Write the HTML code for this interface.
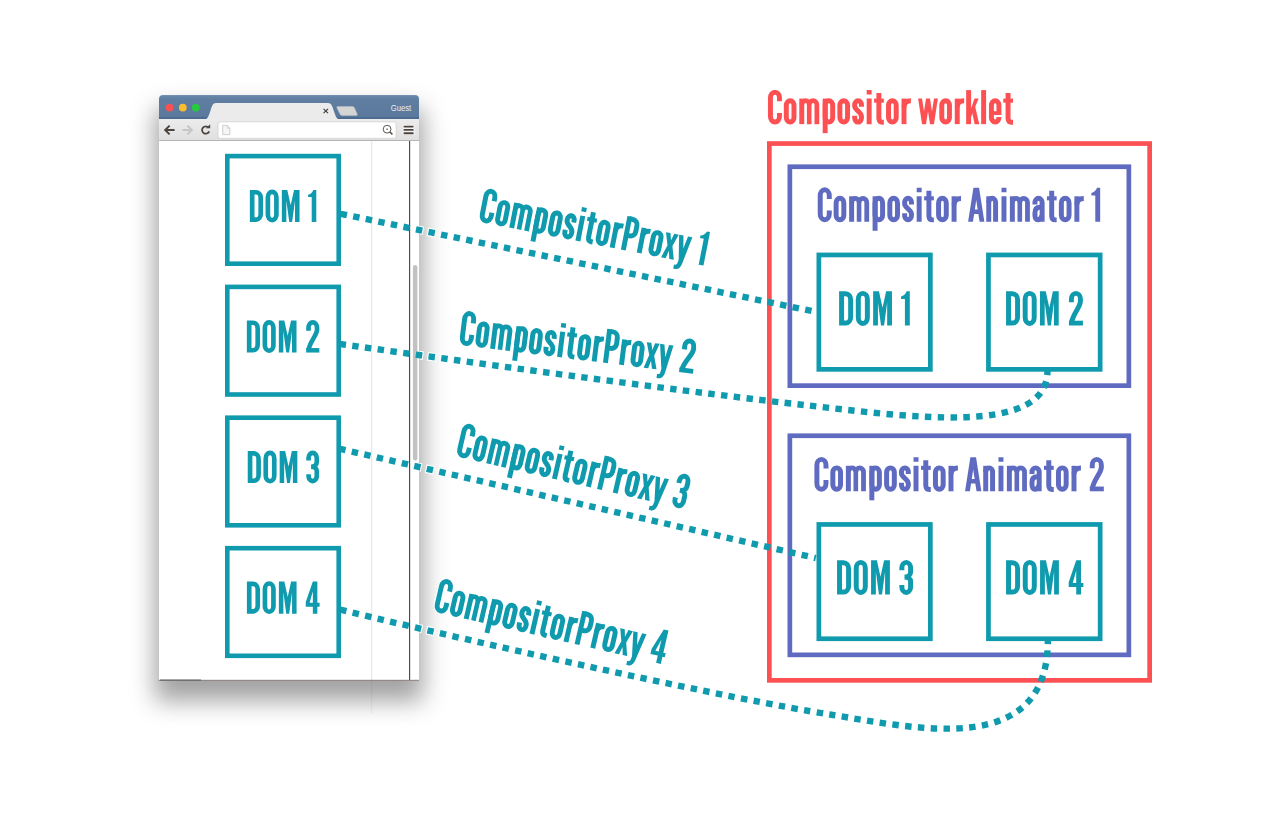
<!DOCTYPE html>
<html><head><meta charset="utf-8"><title>Compositor worklet</title>
<style>
html,body{margin:0;padding:0;background:#fff;}
body{width:1280px;height:815px;overflow:hidden;position:relative;font-family:"Liberation Sans",sans-serif;}
#win{position:absolute;left:158.5px;top:95.2px;width:260.9px;height:585.3px;background:#fff;border-radius:4px 4px 0 0;
 box-shadow:0 17px 24px 3.7px rgba(0,0,0,.37);}
#tb{position:absolute;left:0;top:0;width:100%;height:23.8px;border-radius:4px 4px 0 0;background:linear-gradient(#7b96b6 0,#6585a9 1.2px,#5f7ea2 4px,#5a799d 21.5px,#4c6b90 22.5px,#4c6b90 100%);}
#bar{position:absolute;left:0;top:23.8px;width:100%;height:21.6px;background:linear-gradient(#ececec,#e0e0e0);border-bottom:1px solid #b4b4b4;box-sizing:border-box;}
svg{position:absolute;left:0;top:0;}
text{font-family:"Liberation Sans",sans-serif;font-weight:700;}
</style></head><body>
<div id="win"><div id="tb"></div><div id="bar"></div></div>
<svg width="1280" height="815" viewBox="0 0 1280 815">
<!-- chrome details -->
<g id="chrome">
<path d="M204.5,119.2 C208,119.2 208.5,116 210,112 C212,106 212.5,103 216,103 L328,103 C331.5,103 332.2,106 334.2,112 C335.7,116 336.2,119.2 340,119.2 Z" fill="#ebebeb"/>
<path d="M337.5,106.6 L352.5,106.6 Q354,106.6 354.6,108.2 L357.2,114.2 Q357.6,115.4 356.2,115.4 L342,115.4 Q340.5,115.4 340,114 L337,108 Q336.5,106.6 337.5,106.6 Z" fill="#d4d4d4" stroke="#c0c6cc" stroke-width=".5"/>
<circle cx="169.6" cy="107.6" r="3.9" fill="#fb5152"/>
<circle cx="182.8" cy="107.6" r="3.9" fill="#fdbc2e"/>
<circle cx="195.8" cy="107.6" r="3.9" fill="#27c93f"/>
<text x="390.7" y="111.2" font-size="8.6" fill="#e9eef4" style="font-weight:400" textLength="20.4" lengthAdjust="spacingAndGlyphs">Guest</text>
<path d="M323.6,108.8 L328,113.2 M328,108.8 L323.6,113.2" stroke="#3c3c3c" stroke-width="1.1" fill="none"/>
<rect x="218" y="121.8" width="178.2" height="16.6" rx="2.2" fill="#fff" stroke="#cfcfcf" stroke-width=".8"/>
<!-- back -->
<path d="M174.6,130 L165.6,130 M169.6,125.6 L165.2,130 L169.6,134.4" fill="none" stroke="#4d453f" stroke-width="2"/>
<path d="M182.4,130 L191.4,130 M187.4,125.6 L191.8,130 L187.4,134.4" fill="none" stroke="#c6c6c6" stroke-width="2"/>
<path d="M208.6,127.6 A3.7,3.7 0 1 0 209.2,131.4" fill="none" stroke="#4d453f" stroke-width="1.8"/>
<path d="M205.9,128.3 L210.2,128.3 L210.2,124.2 Z" fill="#4d453f"/>
<!-- page icon -->
<path d="M222.7,125.4 L227.4,125.4 L229.9,127.9 L229.9,134.6 L222.7,134.6 Z" fill="#f6f6f6" stroke="#c9c9c9" stroke-width=".9"/>
<path d="M227.2,125.4 L227.2,128.1 L229.9,128.1" fill="none" stroke="#c9c9c9" stroke-width=".8"/>
<!-- magnifier -->
<circle cx="387.1" cy="129.2" r="3.9" fill="none" stroke="#5b544e" stroke-width="1"/>
<circle cx="387.1" cy="129.2" r=".9" fill="#8a847e"/>
<path d="M389.9,132 L392.4,134.3" stroke="#5b544e" stroke-width="1.6" fill="none"/>
<!-- hamburger -->
<g stroke="#fff" stroke-width="3.6" stroke-opacity=".55" stroke-linecap="round"><path d="M404,126.6H413.2M404,129.9H413.2M404,133.2H413.2"/></g>
<g stroke="#4d453f" stroke-width="1.9" stroke-linecap="round"><path d="M404.4,126.6H412.8M404.4,129.9H412.8M404.4,133.2H412.8"/></g>
<!-- content lines -->
<path d="M371.7,141 V680" stroke="#e3e3e3" stroke-width="1"/>
<path d="M371.7,680 V714" stroke="#000" stroke-opacity=".06" stroke-width="1"/>
<path d="M409.6,141 V680" stroke="#4a413a" stroke-width="1.1"/>
<rect x="412.9" y="265" width="4.5" height="195.6" rx="2.25" fill="#c2c2c2"/>
<path d="M158.6,680.3 H419" stroke="#8d837e" stroke-width="1"/>
<path d="M160,680.2 H201" stroke="#6a6a6a" stroke-width="1.2"/>
</g>
<rect x="227.30" y="156.10" width="111.40" height="107.60" fill="none" stroke="#0f9aad" stroke-width="4.6"/>
<rect x="227.30" y="286.90" width="111.40" height="107.60" fill="none" stroke="#0f9aad" stroke-width="4.6"/>
<rect x="227.30" y="417.70" width="111.40" height="107.60" fill="none" stroke="#0f9aad" stroke-width="4.6"/>
<rect x="227.30" y="548.20" width="111.40" height="107.60" fill="none" stroke="#0f9aad" stroke-width="4.6"/>
<rect x="769.35" y="143.55" width="380.30" height="536.80" fill="none" stroke="#fd5053" stroke-width="4.7"/>
<rect x="789.85" y="166.75" width="339.00" height="218.90" fill="none" stroke="#5f6bc0" stroke-width="4.7"/>
<rect x="789.85" y="435.75" width="339.00" height="219.10" fill="none" stroke="#5f6bc0" stroke-width="4.7"/>
<rect x="818.85" y="254.95" width="111.50" height="114.40" fill="none" stroke="#0f9aad" stroke-width="4.7"/>
<rect x="818.85" y="524.45" width="111.50" height="114.30" fill="none" stroke="#0f9aad" stroke-width="4.7"/>
<rect x="988.45" y="254.95" width="111.70" height="114.40" fill="none" stroke="#0f9aad" stroke-width="4.7"/>
<rect x="988.45" y="524.45" width="111.70" height="114.30" fill="none" stroke="#0f9aad" stroke-width="4.7"/>
<defs><path id="l1" d="M340.62,213.8 L816,311.87"/>
<path id="l2" d="M339.7,343.97 C506.48,367.46 698.03,393.2 805.03,405.1 C906.1,416.33 1047.45,437.56 1047.45,371"/>
<path id="l3" d="M339.26,448.7 L815.8,558.05"/>
<path id="l4" d="M340.27,609.63 C508.16,650.28 731.97,698.91 831.25,714.76 C918.93,728.77 1047.9,758.61 1047.9,640"/><clipPath id="shc"><rect x="419.6" y="90" width="60" height="640"/></clipPath></defs>
<g clip-path="url(#shc)" fill="none" stroke="#fff" stroke-width="8.6" stroke-dasharray="8.65 4.17" stroke-dashoffset="1.1"><use href="#l1"/><use href="#l2"/><use href="#l3"/><use href="#l4"/></g>
<g fill="none" stroke="#0f9aad" stroke-width="6.4" stroke-dasharray="6.45 6.37"><use href="#l1"/><use href="#l2"/><use href="#l3"/><use href="#l4"/></g>
<defs>
<g id="g111"><path d="M7.25,-55.45A11.25,13.50 0 0 1 29.75,-55.45V-19.55A11.25,13.50 0 0 1 7.25,-19.55Z" fill="none" stroke="currentColor" stroke-width="14.5" stroke-linejoin="miter"/></g>
<g id="h111"><path d="M7.25,-55.45A11.25,13.50 0 0 1 29.75,-55.45V-19.55A11.25,13.50 0 0 1 7.25,-19.55Z" fill="none" stroke="#fff" stroke-width="21.5" stroke-linejoin="round"/></g>
<g id="g79"><path d="M7.25,-76.95A13.25,17.00 0 0 1 33.75,-76.95V-23.05A13.25,17.00 0 0 1 7.25,-23.05Z" fill="none" stroke="currentColor" stroke-width="14.5" stroke-linejoin="miter"/></g>
<g id="g67"><path d="M33.75,-67V-76.95A13.25,17 0 0 0 7.25,-76.95V-23.05A13.25,17 0 0 0 33.75,-23.05V-33" fill="none" stroke="currentColor" stroke-width="14.5" stroke-linejoin="miter"/></g>
<g id="h67"><path d="M33.75,-67V-76.95A13.25,17 0 0 0 7.25,-76.95V-23.05A13.25,17 0 0 0 33.75,-23.05V-33" fill="none" stroke="#fff" stroke-width="21.5" stroke-linejoin="round"/></g>
<g id="g68"><path d="M7.25,-92.75H19A14.75,17 0 0 1 33.75,-75.75V-24.25A14.75,17 0 0 1 19,-7.25H7.25Z" fill="none" stroke="currentColor" stroke-width="14.5" stroke-linejoin="miter"/></g>
<g id="g77"><path d="M0,0V-100H17L27.5,-52L38,-100H55V0H41V-67L32,0H23L14,-67V0Z" fill="currentColor" fill-rule="evenodd"/></g>
<g id="g108"><path d="M0,0V-100H14.5V0Z" fill="currentColor" fill-rule="evenodd"/></g>
<g id="g105"><path d="M0,0V-75.0H14.5V0Z M0,-87V-100H14.5V-87Z" fill="currentColor" fill-rule="evenodd"/></g>
<g id="g110"><path d="M0,0V-75.0H14.5V0Z" fill="currentColor" fill-rule="evenodd"/><path d="M7.25,-56.95A10.00,12 0 0 1 27.25,-56.95V0" fill="none" stroke="currentColor" stroke-width="14.5" stroke-linejoin="miter"/></g>
<g id="g109"><path d="M0,0V-75.0H14.5V0Z" fill="currentColor" fill-rule="evenodd"/><path d="M7.75,-56.95A10.62,12 0 0 1 29.00,-56.95V0" fill="none" stroke="currentColor" stroke-width="13.5" stroke-linejoin="miter"/><path d="M29.00,-56.95A11.25,12 0 0 1 51.50,-56.95V0" fill="none" stroke="currentColor" stroke-width="14" stroke-linejoin="miter"/></g>
<g id="g114"><path d="M0,0V-75.0H14.5V0Z" fill="currentColor" fill-rule="evenodd"/><path d="M7.25,-50C7.25,-63 15,-68.45 27.5,-68.45" fill="none" stroke="currentColor" stroke-width="14.5" stroke-linejoin="miter"/></g>
<g id="g112"><path d="M0,26.5V-75.0H14.5V26.5Z" fill="currentColor" fill-rule="evenodd"/><path d="M7.25,-55.45A11.00,13.50 0 0 1 29.25,-55.45V-19.55A11.00,13.50 0 0 1 7.25,-19.55Z" fill="none" stroke="currentColor" stroke-width="14.5" stroke-linejoin="miter"/></g>
<g id="g115"><path d="M27.25,-51V-56.45A10.00,12.5 0 0 0 7.25,-56.45V-53C7.25,-40 27.25,-37 27.25,-22V-18.55A10.00,12.5 0 0 1 7.25,-18.55V-25" fill="none" stroke="currentColor" stroke-width="14.5" stroke-linejoin="miter"/></g>
<g id="g116"><path d="M0,-75.0H28.5V-63H0Z" fill="currentColor" fill-rule="evenodd"/><path d="M14.0,-91.5V-17Q14.7,-5.55 24,-5.55H28.5" fill="none" stroke="currentColor" stroke-width="14.5" stroke-linejoin="miter"/></g>
<g id="g119"><path d="M0,-75H11.5L17.39,-37.1L23.25,-75H34.75L40.61,-37.1L46.5,-75H58L46.35,0H34.85L29,-37.8L23.15,0H11.65Z" fill="currentColor" fill-rule="evenodd"/></g>
<g id="g107"><path d="M0,0V-100H14.5V0Z" fill="currentColor" fill-rule="evenodd"/><path d="M14,-45L24.5,-75H36.5L14,-20Z" fill="currentColor" fill-rule="evenodd"/><path d="M15.5,-44L25,-58L38.5,0H25Z" fill="currentColor" fill-rule="evenodd"/></g>
<g id="g101"><path d="M29.25,-27V-55.45A11.00,13.5 0 0 0 7.25,-55.45V-19.55A11.00,13.5 0 0 0 29.25,-19.55V-21" fill="none" stroke="currentColor" stroke-width="14.5" stroke-linejoin="miter"/><path d="M7.25,-38H29.25V-27H7.25Z" fill="currentColor" fill-rule="evenodd"/></g>
<g id="g65"><path d="M0,0L15.5,-100H32L47.5,0H33.5L29.9,-23H17.6L14,0ZM19.6,-36H27.9L23.75,-64Z" fill="currentColor" fill-rule="evenodd"/></g>
<g id="g97"><path d="M7.25,-51V-56.95A10.50,12 0 0 1 28.25,-56.95V0" fill="none" stroke="currentColor" stroke-width="14.5" stroke-linejoin="miter"/><path d="M28.25,-43H22C12,-43 7.25,-37 7.25,-26V-19C7.25,-10 11,-6.05 16,-6.05C21,-6.05 25,-11 28.25,-18" fill="none" stroke="currentColor" stroke-width="14.5" stroke-linejoin="miter"/></g>
<g id="g80"><path d="M0,0V-100H14.5V0Z" fill="currentColor" fill-rule="evenodd"/><path d="M7.25,-92.75H18A14.75,16 0 0 1 32.75,-76.75V-60A14.75,16 0 0 1 18,-44H7.25" fill="none" stroke="currentColor" stroke-width="14.5" stroke-linejoin="miter"/></g>
<g id="g120"><path d="M0,-75H13.5L19,-54L24.5,-75H38L26.3,-38.5L38,0H24.5L19,-23L13.5,0H0L11.7,-38.5Z" fill="currentColor" fill-rule="evenodd"/></g>
<g id="g121"><path d="M0,-75H13L19.75,-38L26.5,-75H39.5L25.2,4C23,17 18,25.5 7,25.5H2V13.5H5C9,13.5 10.8,10 11.6,4L12.7,-3Z" fill="currentColor" fill-rule="evenodd"/></g>
<g id="g49"><path d="M25.6,0H11.3V-77.5H0V-85Q11,-87 16.5,-100H25.6Z" fill="currentColor" fill-rule="evenodd"/></g>
<g id="g50"><path d="M7.25,-67.7V-76.95A13.25,17 0 0 1 33.75,-76.95V-71C33.75,-54 11,-34 7.5,-8" fill="none" stroke="currentColor" stroke-width="14.5" stroke-linejoin="miter"/><path d="M0,-14H41.0V0H0Z" fill="currentColor" fill-rule="evenodd"/></g>
<g id="g51"><path d="M7.25,-70.7V-77.95A12.75,16 0 0 1 32.75,-77.95V-66C32.75,-57 26,-51 15,-51C26,-51 32.75,-46 32.75,-38V-22.05A12.75,16 0 0 1 7.25,-22.05V-27.7" fill="none" stroke="currentColor" stroke-width="14.5" stroke-linejoin="miter"/></g>
<g id="g52"><path d="M22,-100H36V-33.7H43V-21.6H36V0H22V-21.6H0V-36ZM22,-33.7V-70L12,-33.7Z" fill="currentColor" fill-rule="evenodd"/></g>
</defs>
<g transform="translate(766.93,124.15) scale(0.3414,0.3405)" style="color:#fd5053"><use href="#g67" x="3.00"/><use href="#g111" x="49.50"/><use href="#g109" x="94.80"/><use href="#g112" x="163.30"/><use href="#g111" x="206.40"/><use href="#g115" x="249.70"/><use href="#g105" x="292.20"/><use href="#g116" x="313.90"/><use href="#g111" x="348.90"/><use href="#g114" x="394.20"/><use href="#g119" x="442.80"/><use href="#g111" x="504.90"/><use href="#g114" x="550.20"/><use href="#g107" x="583.50"/><use href="#g108" x="627.50"/><use href="#g101" x="650.30"/><use href="#g116" x="692.30"/></g>
<g transform="translate(816.70,221.78) scale(0.3422,0.3400)" style="color:#5f6bc0"><use href="#g67" x="3.00"/><use href="#g111" x="49.50"/><use href="#g109" x="94.80"/><use href="#g112" x="163.30"/><use href="#g111" x="206.40"/><use href="#g115" x="249.70"/><use href="#g105" x="292.20"/><use href="#g116" x="313.90"/><use href="#g111" x="348.90"/><use href="#g114" x="394.20"/><use href="#g65" x="442.50"/><use href="#g110" x="495.50"/><use href="#g105" x="540.00"/><use href="#g109" x="564.50"/><use href="#g97" x="630.50"/><use href="#g116" x="672.70"/><use href="#g111" x="707.70"/><use href="#g114" x="753.00"/><use href="#g49" x="802.80"/></g>
<g transform="translate(813.37,491.30) scale(0.3428,0.3400)" style="color:#5f6bc0"><use href="#g67" x="3.00"/><use href="#g111" x="49.50"/><use href="#g109" x="94.80"/><use href="#g112" x="163.30"/><use href="#g111" x="206.40"/><use href="#g115" x="249.70"/><use href="#g105" x="292.20"/><use href="#g116" x="313.90"/><use href="#g111" x="348.90"/><use href="#g114" x="394.20"/><use href="#g65" x="442.50"/><use href="#g110" x="495.50"/><use href="#g105" x="540.00"/><use href="#g109" x="564.50"/><use href="#g97" x="630.50"/><use href="#g116" x="672.70"/><use href="#g111" x="707.70"/><use href="#g114" x="753.00"/><use href="#g50" x="806.30"/></g>
<g transform="translate(248.24,222.00) scale(0.3218,0.3210)" style="color:#0f9aad"><use href="#g68" x="5.00"/><use href="#g79" x="53.80"/><use href="#g77" x="104.40"/><use href="#g49" x="185.90"/></g>
<g transform="translate(245.24,352.55) scale(0.3217,0.3210)" style="color:#0f9aad"><use href="#g68" x="5.00"/><use href="#g79" x="53.80"/><use href="#g77" x="104.40"/><use href="#g50" x="189.40"/></g>
<g transform="translate(246.13,483.10) scale(0.3213,0.3210)" style="color:#0f9aad"><use href="#g68" x="5.00"/><use href="#g79" x="53.80"/><use href="#g77" x="104.40"/><use href="#g51" x="187.10"/></g>
<g transform="translate(245.29,613.65) scale(0.3217,0.3210)" style="color:#0f9aad"><use href="#g68" x="5.00"/><use href="#g79" x="53.80"/><use href="#g77" x="104.40"/><use href="#g52" x="188.00"/></g>
<g transform="translate(837.39,325.50) scale(0.3424,0.3420)" style="color:#0f9aad"><use href="#g68" x="5.00"/><use href="#g79" x="53.80"/><use href="#g77" x="104.40"/><use href="#g49" x="185.90"/></g>
<g transform="translate(1004.36,325.50) scale(0.3409,0.3420)" style="color:#0f9aad"><use href="#g68" x="5.00"/><use href="#g79" x="53.80"/><use href="#g77" x="104.40"/><use href="#g50" x="189.40"/></g>
<g transform="translate(835.33,594.50) scale(0.3423,0.3420)" style="color:#0f9aad"><use href="#g68" x="5.00"/><use href="#g79" x="53.80"/><use href="#g77" x="104.40"/><use href="#g51" x="187.10"/></g>
<g transform="translate(1004.35,594.50) scale(0.3422,0.3420)" style="color:#0f9aad"><use href="#g68" x="5.00"/><use href="#g79" x="53.80"/><use href="#g77" x="104.40"/><use href="#g52" x="188.00"/></g>
<g transform="rotate(11.08 478.41 221.55) translate(477.38,221.55) scale(0.3420,0.3420)" style="color:#0f9aad"><use href="#g67" x="3.00"/><use href="#g111" x="49.50"/><use href="#g109" x="94.80"/><use href="#g112" x="163.30"/><use href="#g111" x="206.40"/><use href="#g115" x="249.70"/><use href="#g105" x="292.20"/><use href="#g116" x="313.90"/><use href="#g111" x="348.90"/><use href="#g114" x="394.20"/><use href="#g80" x="427.50"/><use href="#g114" x="474.70"/><use href="#g111" x="506.30"/><use href="#g120" x="547.20"/><use href="#g121" x="586.40"/><use href="#g49" x="648.00"/></g>
<g transform="rotate(7.1 458.92 344.64) translate(457.89,344.64) scale(0.3420,0.3420)" style="color:#0f9aad"><use href="#g67" x="3.00"/><use href="#g111" x="49.50"/><use href="#g109" x="94.80"/><use href="#g112" x="163.30"/><use href="#g111" x="206.40"/><use href="#g115" x="249.70"/><use href="#g105" x="292.20"/><use href="#g116" x="313.90"/><use href="#g111" x="348.90"/><use href="#g114" x="394.20"/><use href="#g80" x="427.50"/><use href="#g114" x="474.70"/><use href="#g111" x="506.30"/><use href="#g120" x="547.20"/><use href="#g121" x="586.40"/><use href="#g50" x="651.50"/></g>
<g transform="rotate(13.05 455.63 456.13) translate(454.60,456.13) scale(0.3420,0.3420)" style="color:#0f9aad"><use href="#g67" x="3.00"/><use href="#g111" x="49.50"/><use href="#g109" x="94.80"/><use href="#g112" x="163.30"/><use href="#g111" x="206.40"/><use href="#g115" x="249.70"/><use href="#g105" x="292.20"/><use href="#g116" x="313.90"/><use href="#g111" x="348.90"/><use href="#g114" x="394.20"/><use href="#g80" x="427.50"/><use href="#g114" x="474.70"/><use href="#g111" x="506.30"/><use href="#g120" x="547.20"/><use href="#g121" x="586.40"/><use href="#g51" x="649.20"/></g>
<g transform="rotate(13.0 433.14 611.33) translate(432.11,611.33) scale(0.3420,0.3420)" style="color:#0f9aad"><use href="#h67" x="3.00"/><use href="#h111" x="49.50"/><use href="#g67" x="3.00"/><use href="#g111" x="49.50"/><use href="#g109" x="94.80"/><use href="#g112" x="163.30"/><use href="#g111" x="206.40"/><use href="#g115" x="249.70"/><use href="#g105" x="292.20"/><use href="#g116" x="313.90"/><use href="#g111" x="348.90"/><use href="#g114" x="394.20"/><use href="#g80" x="427.50"/><use href="#g114" x="474.70"/><use href="#g111" x="506.30"/><use href="#g120" x="547.20"/><use href="#g121" x="586.40"/><use href="#g52" x="650.10"/></g>
</svg>
</body></html>
